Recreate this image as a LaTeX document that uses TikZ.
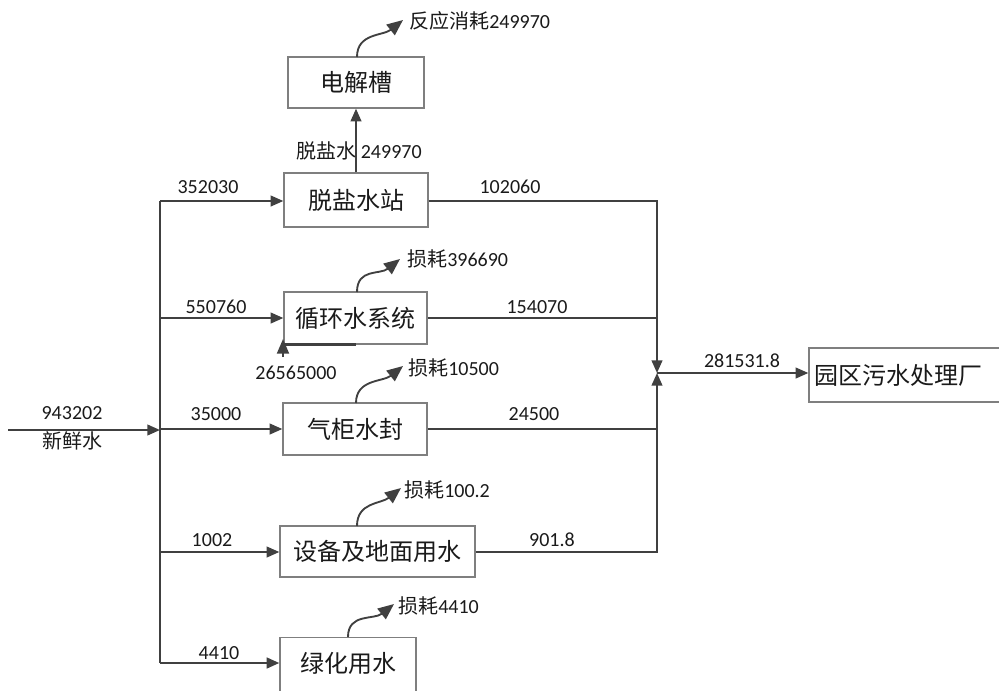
\documentclass[tikz,border=0pt]{standalone}
\usepackage{fontspec}
\setmainfont{Carlito}
\newfontfamily\cjk{Noto Sans CJK SC}
\usetikzlibrary{arrows.meta}
\definecolor{flowc}{HTML}{404040}
\definecolor{boxc}{HTML}{7F7F7F}
\definecolor{txtc}{HTML}{1A1A1A}
\tikzset{
  flow/.style={draw=flowc, line width=1.5pt},
  arr/.style={flow, -{Triangle[length=9.5pt,width=8pt]}},
  loss/.style={draw=flowc, line width=1.4pt, -{Triangle[length=12pt,width=10pt]}},
  box/.style={draw=boxc, line width=1pt, fill=white, inner sep=0pt},
  btxt/.style={font=\cjk\fontsize{18}{20}\selectfont, text=txtc},
  lbl/.style={font=\fontsize{15}{17}\selectfont, text=txtc, inner sep=0pt},
}
\begin{document}
\begin{tikzpicture}[x=0.75pt,y=-0.75pt]
\useasboundingbox (0,0) rectangle (999,690);
\clip (0,0) rectangle (999,690);

% boxes
\node[box,btxt,minimum width=102pt,minimum height=38.25pt] (dj) at (356,82.5) {电解槽};
\node[box,btxt,minimum width=108pt,minimum height=40.5pt] (ts) at (356,200) {脱盐水站};
\node[box,btxt,minimum width=107.25pt,minimum height=39pt] (xh) at (355.5,318) {循环水系统};
\node[box,btxt,minimum width=108pt,minimum height=39pt] (qg) at (355,429) {气柜水封};
\node[box,btxt,minimum width=146.25pt,minimum height=38.25pt] (sb) at (377.5,551.5) {设备及地面用水};
\node[box,minimum width=102pt,minimum height=45pt,anchor=north] (lh) at (348,637) {};
\node[btxt] (lhT) at (348,663) {绿化用水};
\node[box,minimum width=147pt,minimum height=40.5pt] (yq) at (907,375) {};
\node[btxt] (yqT) at (898,375) {园区污水处理厂};

% junction coordinates
\coordinate (in) at (8,430);
\coordinate (jIn) at (160,430);
\coordinate (j1) at (160,201);
\coordinate (j2) at (160,318);
\coordinate (j3) at (160,429);
\coordinate (j4) at (160,552);
\coordinate (j5) at (160,663);
\coordinate (rTop) at (657,201);
\coordinate (r2) at (657,318);
\coordinate (r3) at (657,429);
\coordinate (rMid) at (657,373);
\coordinate (rBot) at (657,552);

% main supply
\draw[flow, line width=1.8pt] (j1) -- (j5);
\draw[arr] (in) -- (jIn);
\draw[arr] (j1) -- (j1 -| ts.west);
\draw[arr] (j2) -- (j2 -| xh.west);
\draw[arr] (j3) -- (j3 -| qg.west);
\draw[arr] (j4) -- (j4 -| sb.west);
\draw[arr, line width=1.8pt] (j5) -- (j5 -| lh.west);

% desalted water to electrolyser
\draw[arr] (ts.north) -- (dj.south);

% drains
\draw[arr] (rTop -| ts.east) -- (rTop) -- (rMid);
\draw[flow] (xh.east) -- (r2);
\draw[flow] (r3 -| qg.east) -- (r3);
\draw[arr] (rBot -| sb.east) -- (rBot) -- (rMid);
\draw[flow, line width=1.8pt] (r2) -- (657,360);
\draw[flow, line width=1.8pt] (r3) -- (657,386);
\draw[arr] (rMid) -- (rMid -| yq.west);

% recirculation
\coordinate (rcB) at (283,357);
\coordinate (rcT) at (283,339);
\draw[flow, line width=1.8pt] (xh.south) -- (xh.south west);
\draw[flow, -{Triangle[length=11pt,width=9pt]}] (rcB) -- (rcT);

% losses
\coordinate (l1s) at (357,57);  \coordinate (l1e) at (403,20);
\coordinate (l2s) at (357,292); \coordinate (l2e) at (400,259);
\coordinate (l3s) at (356,403); \coordinate (l3e) at (403,366);
\coordinate (l4s) at (357,526); \coordinate (l4e) at (401,488);
\coordinate (l5s) at (348,637); \coordinate (l5e) at (394,604);
\foreach \s/\e in {l1s/l1e,l2s/l2e,l3s/l3e,l4s/l4e,l5s/l5e}{
  \draw[loss] (\s) .. controls +(0,-24) and +(-20,16) .. (\e);
}
\node[lbl,anchor=west] (t1) at (409,21) {{\cjk 反应消耗}249970};
\node[lbl,anchor=west] (t2) at (407,259) {{\cjk 损耗}396690};
\node[lbl,anchor=west] (t3) at (408,368) {{\cjk 损耗}10500};
\node[lbl,anchor=west] (t4) at (404,490) {{\cjk 损耗}100.2};
\node[lbl,anchor=west] (t5) at (398,606) {{\cjk 损耗}4410};

% flow labels
\node[lbl] (f0) at (72,413) {943202};
\node[lbl] (f0b) at (72,441) {\cjk 新鲜水};
\node[lbl] (f1) at (208,187) {352030};
\node[lbl] (f2) at (216,307) {550760};
\node[lbl] (f3) at (216,414) {35000};
\node[lbl] (f4) at (212,540) {1002};
\node[lbl] (f5) at (219,653) {4410};
\node[lbl] (g1) at (510,187) {102060};
\node[lbl] (g2) at (537,307) {154070};
\node[lbl] (g3) at (534,414) {24500};
\node[lbl] (g4) at (552,540) {901.8};
\node[lbl] (g5) at (742,361) {281531.8};
\node[lbl] (rcL) at (296,373) {26565000};
\node[lbl] (ds) at (359,151) {{\cjk 脱盐水} 249970};
\end{tikzpicture}
\end{document}
